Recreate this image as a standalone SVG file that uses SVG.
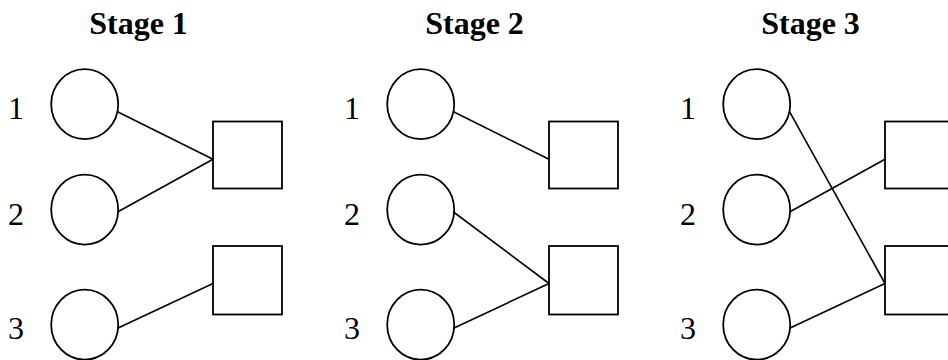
<svg xmlns="http://www.w3.org/2000/svg" width="948" height="360" viewBox="0 0 948 360">
<style>
.node{fill:#fff;stroke:#000;stroke-width:1.8}
.edge{stroke:#000;stroke-width:1.6;fill:none}
.title{font-family:"Liberation Serif","Times New Roman",serif;font-weight:bold;font-size:32px;text-anchor:middle;fill:#000}
.lbl{font-family:"Liberation Serif","Times New Roman",serif;font-size:32px;text-anchor:middle;fill:#000}
</style>
<rect width="948" height="360" fill="#fff"/>
<text class="title" x="138.5" y="33.5">Stage 1</text>
<text class="title" x="474.5" y="33.5">Stage 2</text>
<text class="title" x="810.5" y="33.5">Stage 3</text>
<g id="connectors">
<line class="edge" x1="117.5" y1="111.7" x2="213" y2="159.3"/>
<line class="edge" x1="117.5" y1="212" x2="213" y2="159.3"/>
<line class="edge" x1="117.5" y1="328.3" x2="213" y2="283.5"/>
<line class="edge" x1="453.5" y1="111.7" x2="549" y2="159.3"/>
<line class="edge" x1="453.5" y1="212" x2="549" y2="283.5"/>
<line class="edge" x1="453.5" y1="328.3" x2="549" y2="283.5"/>
<line class="edge" x1="789.5" y1="111.7" x2="885" y2="283.5"/>
<line class="edge" x1="789.5" y1="212" x2="885" y2="159.3"/>
<line class="edge" x1="789.5" y1="328.3" x2="885" y2="283.5"/>
</g>
<g id="s1-n1"><ellipse class="node" cx="84.7" cy="104.2" rx="33.5" ry="35"/><text class="lbl" x="16" y="119.3">1</text></g>
<g id="s1-n2"><ellipse class="node" cx="84.7" cy="209.7" rx="33.5" ry="35"/><text class="lbl" x="16" y="224.5">2</text></g>
<g id="s1-n3"><ellipse class="node" cx="84.7" cy="324.7" rx="33.5" ry="35"/><text class="lbl" x="16" y="339.3">3</text></g>
<g id="s1-m1"><rect class="node" x="213" y="121.5" width="69" height="67"/></g>
<g id="s1-m2"><rect class="node" x="213" y="246" width="69" height="68.5"/></g>
<g id="s2-n1"><ellipse class="node" cx="420.7" cy="104.2" rx="33.5" ry="35"/><text class="lbl" x="352" y="119.3">1</text></g>
<g id="s2-n2"><ellipse class="node" cx="420.7" cy="209.7" rx="33.5" ry="35"/><text class="lbl" x="352" y="224.5">2</text></g>
<g id="s2-n3"><ellipse class="node" cx="420.7" cy="324.7" rx="33.5" ry="35"/><text class="lbl" x="352" y="339.3">3</text></g>
<g id="s2-m1"><rect class="node" x="549" y="121.5" width="69" height="67"/></g>
<g id="s2-m2"><rect class="node" x="549" y="246" width="69" height="68.5"/></g>
<g id="s3-n1"><ellipse class="node" cx="756.7" cy="104.2" rx="33.5" ry="35"/><text class="lbl" x="688" y="119.3">1</text></g>
<g id="s3-n2"><ellipse class="node" cx="756.7" cy="209.7" rx="33.5" ry="35"/><text class="lbl" x="688" y="224.5">2</text></g>
<g id="s3-n3"><ellipse class="node" cx="756.7" cy="324.7" rx="33.5" ry="35"/><text class="lbl" x="688" y="339.3">3</text></g>
<g id="s3-m1"><rect class="node" x="885" y="121.5" width="69" height="67"/></g>
<g id="s3-m2"><rect class="node" x="885" y="246" width="69" height="68.5"/></g>
</svg>
